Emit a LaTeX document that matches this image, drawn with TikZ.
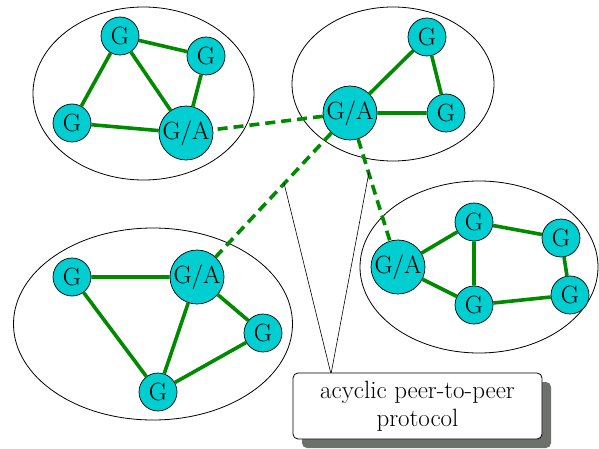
\documentclass[tikz,border=0pt]{standalone}
\usepackage{tikz}
\usetikzlibrary{shadows}

\definecolor{peercyan}{RGB}{0,206,209}
\definecolor{linkgreen}{RGB}{0,138,0}
\definecolor{shadowgray}{RGB}{110,112,110}

\begin{document}
\begin{tikzpicture}[x=1pt, y=-1pt,
    every node/.style={circle, draw, fill=peercyan, inner sep=0pt, line width=0.7pt, font=\fontsize{25}{28}\selectfont},
    peer/.style={minimum size=38pt},
    gate/.style={minimum size=54pt},
    link/.style={linkgreen, line width=3.6pt},
    tunnel/.style={linkgreen, line width=3.6pt, dash pattern=on 10pt off 6pt}]
    \useasboundingbox (0,0) rectangle (599,449);

    % groups
    \draw[line width=0.8pt] (143.5,93.5) ellipse [x radius=110.5pt, y radius=86.5pt];
    \draw[line width=0.8pt] (393,84) ellipse [x radius=101pt, y radius=77pt];
    \draw[line width=0.8pt] (153,324) ellipse [x radius=139.5pt, y radius=96pt];
    \draw[line width=0.8pt] (479,267) ellipse [x radius=119pt, y radius=86pt];

    % top left group
    \node[peer] (a1) at (120,36) {G};
    \node[peer] (a2) at (206,56) {G};
    \node[peer] (a3) at (72,123) {G};
    \node[gate] (aA) at (186,133) {G/A};

    % top right group
    \node[gate] (bA) at (350,113) {G/A};
    \node[peer] (b1) at (427,37) {G};
    \node[peer] (b2) at (446,113) {G};

    % bottom left group
    \node[peer] (c1) at (72,277) {G};
    \node[gate] (cA) at (197,277) {G/A};
    \node[peer] (c2) at (263,333) {G};
    \node[peer] (c3) at (158,392) {G};

    % bottom right group
    \node[gate] (dA) at (398,267) {G/A};
    \node[peer] (d1) at (474,222) {G};
    \node[peer] (d2) at (474,305) {G};
    \node[peer] (d3) at (561,238) {G};
    \node[peer] (d4) at (570,295) {G};

    % links inside the groups
    \draw[link] (a1) -- (a2) (a1) -- (a3) (a1) -- (aA) (a2) -- (aA) (a3) -- (aA);
    \draw[link] (bA) -- (b1) -- (b2) -- (bA);
    \draw[link] (c1) -- (cA) (c1) -- (c3) (cA) -- (c3) (cA) -- (c2) -- (c3);
    \draw[link] (dA) -- (d1) (dA) -- (d2) (d1) -- (d2) (d1) -- (d3) -- (d4) -- (d2);

    % links between the gateways
    \draw[tunnel] (bA) -- (aA);
    \draw[tunnel] (bA) -- (cA);
    \draw[tunnel] (bA) -- (dA);

    % callout
    \coordinate (tipL) at (284,183);
    \coordinate (tipR) at (369,172);
    \coordinate (apex) at (331,374);
    \draw[line width=0.6pt] (tipL) -- (apex) -- (tipR);
    \node[rectangle, rounded corners=5pt, fill=white, line width=0.8pt,
          minimum width=249pt, minimum height=66pt, align=center,
          drop shadow={shadow xshift=9pt, shadow yshift=-9pt, fill=shadowgray, opacity=1}]
          (note) at (417.5,406) {acyclic peer-to-peer\\protocol};
\end{tikzpicture}
\end{document}
